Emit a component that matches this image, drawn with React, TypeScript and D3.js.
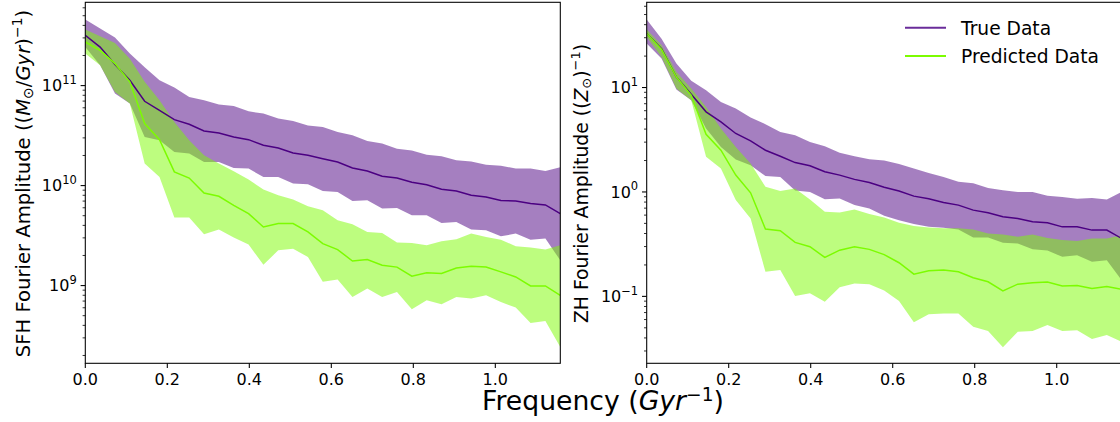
import React from "react";
import * as d3 from "d3";

// ---------- data ----------
const frequencies = [
  0, 0.0362, 0.0724, 0.1086, 0.1448, 0.181, 0.2172, 0.2534, 0.2896, 0.3258, 0.362,
  0.3982, 0.4344, 0.4706, 0.5068, 0.543, 0.5792, 0.6154, 0.6516, 0.6878, 0.724,
  0.7602, 0.7964, 0.8326, 0.8688, 0.905, 0.9412, 0.9774, 1.0136, 1.0498, 1.086,
  1.1222, 1.1584,
];

// SFH panel
const sfhTrueMean = [
  3.18e11, 2.43e11, 1.63e11, 1.13e11, 6.97e10, 5.66e10, 4.57e10, 4.1e10, 3.52e10, 3.36e10,
  3.06e10, 2.88e10, 2.53e10, 2.38e10, 2.12e10, 2.01e10, 1.86e10, 1.72e10, 1.5e10, 1.4e10,
  1.24e10, 1.19e10, 1.08e10, 1.02e10, 9.18e9, 8.83e9, 8.0e9, 7.69e9, 7.08e9, 7.02e9,
  6.61e9, 6.4e9, 5.25e9,
];
const sfhTrueUpper = [
  4.57e11, 3.72e11, 3.02e11, 2.09e11, 1.53e11, 1.13e11, 9.55e10, 7.69e10, 7.13e10, 6.46e10,
  6.25e10, 5.53e10, 5.25e10, 4.68e10, 4.43e10, 3.98e10, 3.85e10, 3.44e10, 3.18e10, 2.79e10,
  2.63e10, 2.34e10, 2.25e10, 2.04e10, 1.96e10, 1.79e10, 1.74e10, 1.62e10, 1.58e10, 1.48e10,
  1.48e10, 1.4e10, 1.53e10,
];
const sfhTrueLower = [
  2.43e11, 1.6e11, 8.32e10, 6.61e10, 3.06e10, 2.84e10, 2.17e10, 2.09e10, 1.72e10, 1.72e10,
  1.5e10, 1.48e10, 1.22e10, 1.22e10, 1.05e10, 1.03e10, 8.83e9, 8.63e9, 7.02e9, 7.13e9,
  5.89e9, 5.97e9, 5.05e9, 5.05e9, 4.23e9, 4.33e9, 3.63e9, 3.57e9, 3.11e9, 3.31e9,
  2.88e9, 2.95e9, 1.79e9,
];
const sfhPredMean = [
  2.73e11, 2.25e11, 1.66e11, 1.09e11, 4.17e10, 2.88e10, 1.37e10, 1.19e10, 8.43e9, 7.82e9,
  6.35e9, 5.25e9, 3.85e9, 4.17e9, 4.17e9, 3.44e9, 2.63e9, 2.29e9, 1.76e9, 1.82e9,
  1.6e9, 1.53e9, 1.24e9, 1.34e9, 1.32e9, 1.5e9, 1.56e9, 1.53e9, 1.37e9, 1.22e9,
  9.91e8, 9.91e8, 8.0e8,
];
const sfhPredUpper = [
  3.63e11, 3.11e11, 2.67e11, 1.86e11, 1.09e11, 7.13e10, 4.33e10, 2.84e10, 2.01e10, 1.66e10,
  1.39e10, 1.15e10, 9.12e9, 8.0e9, 7.24e9, 6.21e9, 5.66e9, 4.5e9, 4.1e9, 3.44e9,
  3.36e9, 2.69e9, 2.67e9, 2.53e9, 2.77e9, 2.9e9, 3.31e9, 3.06e9, 2.88e9, 2.47e9,
  2.4e9, 2.29e9, 2.53e9,
];
const sfhPredLower = [
  2.09e11, 1.6e11, 8.63e10, 6.61e10, 1.66e10, 1.22e10, 4.79e9, 4.79e9, 3.26e9, 3.63e9,
  3.02e9, 2.57e9, 1.62e9, 2.25e9, 2.34e9, 1.93e9, 1.09e9, 1.15e9, 7.69e8, 9.33e8,
  7.69e8, 8.63e8, 5.79e8, 7.13e8, 6.5e8, 7.69e8, 7.41e8, 8.0e8, 6.85e8, 6.03e8,
  4.23e8, 4.43e8, 2.43e8,
];

// ZH panel
const zhTrueMean = [
  32.9, 23.6, 12.6, 8.63, 5.85, 4.69, 3.63, 3.08, 2.51, 2.2,
  1.91, 1.78, 1.56, 1.45, 1.32, 1.23, 1.11, 1.02, 0.912, 0.859,
  0.794, 0.748, 0.67, 0.631, 0.578, 0.557, 0.518, 0.506, 0.463, 0.463,
  0.431, 0.431, 0.359,
];
const zhTrueUpper = [
  44.8, 29.4, 17.0, 11.6, 9.42, 7.28, 6.3, 5.16, 4.46, 3.76,
  3.5, 3.01, 2.74, 2.37, 2.2, 2.06, 2.0, 1.85, 1.68, 1.52,
  1.39, 1.25, 1.21, 1.09, 1.04, 1.0, 1.0, 0.918, 0.897, 0.859,
  0.877, 0.847, 1.0,
];
const zhTrueLower = [
  26.4, 19.0, 9.57, 7.55, 4.06, 2.7, 2.05, 1.8, 1.42, 1.39,
  1.03, 1.0, 0.853, 0.867, 0.748, 0.695, 0.593, 0.537, 0.492, 0.463,
  0.454, 0.438, 0.367, 0.367, 0.326, 0.321, 0.282, 0.275, 0.239, 0.248,
  0.214, 0.222, 0.143,
];
const zhPredMean = [
  32.9, 23.1, 12.6, 8.43, 3.57, 2.51, 1.45, 0.982, 0.441, 0.425,
  0.329, 0.299, 0.236, 0.277, 0.299, 0.282, 0.251, 0.21, 0.163, 0.176,
  0.179, 0.172, 0.151, 0.138, 0.113, 0.131, 0.135, 0.137, 0.126, 0.127,
  0.119, 0.124, 0.117,
];
const zhPredUpper = [
  35.9, 25.4, 14.1, 9.77, 6.52, 4.06, 2.7, 1.87, 1.12, 1.02,
  1.08, 0.847, 0.646, 0.637, 0.679, 0.614, 0.57, 0.506, 0.471, 0.457,
  0.448, 0.448, 0.438, 0.401, 0.392, 0.372, 0.392, 0.363, 0.346, 0.34,
  0.359, 0.359, 0.386,
];
const zhPredLower = [
  30.5, 19.6, 9.77, 7.55, 2.17, 1.68, 0.836, 0.557, 0.172, 0.179,
  0.101, 0.107, 0.0887, 0.122, 0.133, 0.131, 0.114, 0.0902, 0.0564, 0.0673,
  0.0687, 0.0687, 0.0512, 0.0466, 0.0325, 0.0458, 0.0466, 0.0531, 0.0466, 0.0475,
  0.039, 0.0427, 0.0368,
];

const xDomain = [0, 1.1585];
const xTicks = [0, 0.2, 0.4, 0.6, 0.8, 1.0];
const xTickLabels = ["0.0", "0.2", "0.4", "0.6", "0.8", "1.0"];
const sfhYDomain = [1.67e8, 6.81e11];
const sfhTickExponents = [9, 10, 11];
const zhYDomain = [0.02286, 65.5];
const zhTickExponents = [-1, 0, 1];
const legendLabels = ["True Data", "Predicted Data"];

// ---------- styles ----------
const FONT = "'DejaVu Sans', sans-serif";
const PURPLE_LINE = "#4b0082";
const PURPLE_FILL = "rgba(75,0,130,0.5)";
const GREEN_LINE = "#7cfc00";
const GREEN_FILL = "rgba(124,252,0,0.5)";

type PanelProps = {
  id: string;
  left: number;
  right: number;
  top: number;
  bottom: number;
  yDomain: number[];
  tickExps: number[];
  trueMean: number[];
  trueUpper: number[];
  trueLower: number[];
  predMean: number[];
  predUpper: number[];
  predLower: number[];
};

function Panel(p: PanelProps) {
  const x = d3.scaleLinear().domain(xDomain).range([p.left, p.right]);
  const y = d3.scaleLog().domain(p.yDomain).range([p.bottom, p.top]);
  const idx = frequencies.map((_, i) => i);
  const area = (lo: number[], hi: number[]) =>
    d3
      .area<number>()
      .x((i) => x(frequencies[i]))
      .y0((i) => y(lo[i]))
      .y1((i) => y(hi[i]))(idx) || "";
  const line = (v: number[]) =>
    d3
      .line<number>()
      .x((i) => x(frequencies[i]))
      .y((i) => y(v[i]))(idx) || "";

  // minor ticks
  const minor: number[] = [];
  const e0 = Math.floor(Math.log10(p.yDomain[0]));
  const e1 = Math.ceil(Math.log10(p.yDomain[1]));
  for (let e = e0; e <= e1; e++) {
    for (let m = 2; m <= 9; m++) {
      const v = m * Math.pow(10, e);
      if (v >= p.yDomain[0] && v <= p.yDomain[1]) minor.push(v);
    }
  }

  return (
    <g>
      <defs>
        <clipPath id={p.id}>
          <rect x={p.left} y={p.top} width={p.right - p.left} height={p.bottom - p.top} />
        </clipPath>
      </defs>
      <g clipPath={`url(#${p.id})`}>
        <path d={area(p.trueLower, p.trueUpper)} fill={PURPLE_FILL} stroke="none" />
        <path d={area(p.predLower, p.predUpper)} fill={GREEN_FILL} stroke="none" />
        <path d={line(p.trueMean)} fill="none" stroke={PURPLE_LINE} strokeWidth={1.5} />
        <path d={line(p.predMean)} fill="none" stroke={GREEN_LINE} strokeWidth={1.5} />
      </g>
      {/* spines */}
      <rect
        x={p.left}
        y={p.top}
        width={p.right - p.left}
        height={p.bottom - p.top}
        fill="none"
        stroke="#000"
        strokeWidth={1.07}
      />
      {/* x ticks */}
      {xTicks.map((t, i) => (
        <g key={"xt" + i}>
          <line x1={x(t)} x2={x(t)} y1={p.bottom} y2={p.bottom + 4.7} stroke="#000" strokeWidth={1.07} />
          <text x={x(t)} y={p.bottom + 21.5} textAnchor="middle" fontSize={16} fontFamily={FONT} fill="#000">
            {xTickLabels[i]}
          </text>
        </g>
      ))}
      {/* y minor ticks */}
      {minor.map((v, i) => (
        <line key={"ym" + i} x1={p.left - 2.7} x2={p.left} y1={y(v)} y2={y(v)} stroke="#000" strokeWidth={0.8} />
      ))}
      {/* y major ticks */}
      {p.tickExps.map((e) => {
        const yy = y(Math.pow(10, e));
        return (
          <g key={"ye" + e}>
            <line x1={p.left - 4.7} x2={p.left} y1={yy} y2={yy} stroke="#000" strokeWidth={1.07} />
            <text x={p.left - 8.5} y={yy + 5.8} textAnchor="end" fontSize={16} fontFamily={FONT} fill="#000">
              10
              <tspan fontSize={11.5} dy={-7.5}>
                {e < 0 ? "\u2212" + Math.abs(e) : String(e)}
              </tspan>
            </text>
          </g>
        );
      })}
    </g>
  );
}

export default function App() {
  const W = 1120;
  const H = 422;
  const top = 2.3;
  const bottom = 363.3;
  const yMid = (top + bottom) / 2 + 0.7;
  return (
    <svg
      width={W}
      height={H}
      viewBox={`0 0 ${W} ${H}`}
      style={{ position: "absolute", left: 0, top: 0, background: "#fff" }}
      fontFamily={FONT}
    >
      <rect x={0} y={0} width={W} height={H} fill="#fff" />
      <Panel
        id="clipSfh"
        left={85.3}
        right={560.3}
        top={top}
        bottom={bottom}
        yDomain={sfhYDomain}
        tickExps={sfhTickExponents}
        trueMean={sfhTrueMean}
        trueUpper={sfhTrueUpper}
        trueLower={sfhTrueLower}
        predMean={sfhPredMean}
        predUpper={sfhPredUpper}
        predLower={sfhPredLower}
      />
      <Panel
        id="clipZh"
        left={646.7}
        right={1121.7}
        top={top}
        bottom={bottom}
        yDomain={zhYDomain}
        tickExps={zhTickExponents}
        trueMean={zhTrueMean}
        trueUpper={zhTrueUpper}
        trueLower={zhTrueLower}
        predMean={zhPredMean}
        predUpper={zhPredUpper}
        predLower={zhPredLower}
      />
      {/* y labels */}
      <text transform={`translate(30,${yMid}) rotate(-90)`} textAnchor="middle" fontSize={19.6} fill="#000">
        SFH Fourier Amplitude ((
        <tspan fontStyle="italic">M</tspan>
        <tspan fontSize={14} dy={3}>{"\u2299"}</tspan>
        <tspan dy={-3}>/</tspan>
        <tspan fontStyle="italic">Gyr</tspan>
        <tspan>)</tspan>
        <tspan fontSize={14} dy={-8}>{"\u22121"}</tspan>
        <tspan dy={8}>)</tspan>
      </text>
      <text transform={`translate(588,${yMid}) rotate(-90)`} textAnchor="middle" fontSize={18.8} fill="#000">
        ZH Fourier Amplitude ((
        <tspan fontStyle="italic">Z</tspan>
        <tspan fontSize={13} dy={3}>{"\u2299"}</tspan>
        <tspan dy={-3}>)</tspan>
        <tspan fontSize={13} dy={-8}>{"\u22121"}</tspan>
        <tspan dy={8}>)</tspan>
      </text>
      {/* x label */}
      <text x={603} y={410} textAnchor="middle" fontSize={26.67} fill="#000">
        Frequency (<tspan fontStyle="italic">Gyr</tspan>
        <tspan fontSize={18.67} dy={-9.5}>{"\u22121"}</tspan>
        <tspan dy={9.5}>)</tspan>
      </text>
      {/* legend */}
      <g>
        <line x1={905} x2={946} y1={27.7} y2={27.7} stroke="#6a2c9a" strokeWidth={2} />
        <text x={961} y={35} fontSize={18.67} fill="#000">{legendLabels[0]}</text>
        <line x1={905} x2={946} y1={56} y2={56} stroke={GREEN_LINE} strokeWidth={2} />
        <text x={961} y={63.3} fontSize={18.67} fill="#000">{legendLabels[1]}</text>
      </g>
    </svg>
  );
}
